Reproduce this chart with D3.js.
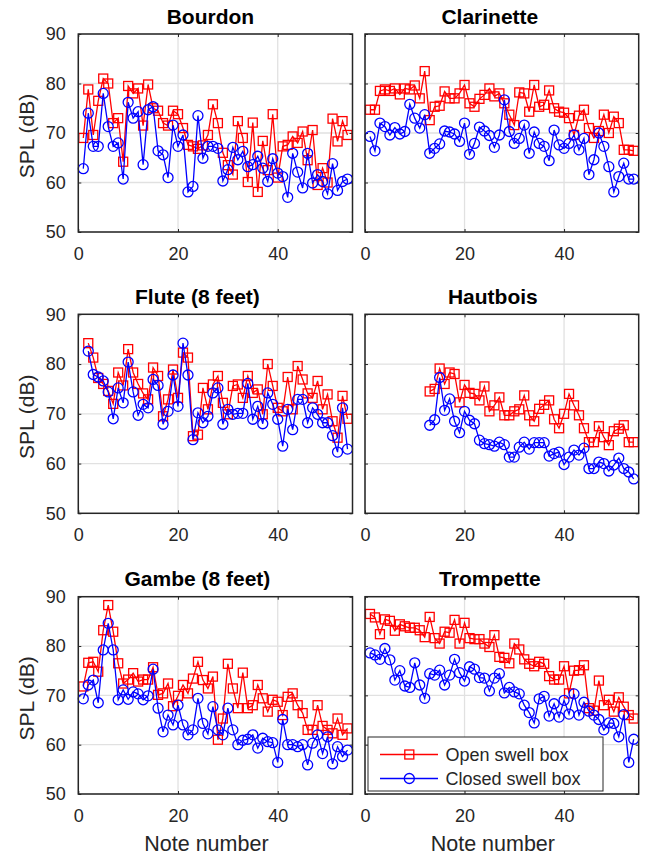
<!DOCTYPE html>
<meta charset="utf-8">
<style>
    body { margin: 0; background: #fff; }
    svg text { font-family: "Liberation Sans", Arial, sans-serif; }
</style>
<svg width="646" height="856"></svg>
<script src="https://cdn.jsdelivr.net/npm/d3@7"></script>
<script>
// ticks shared by all six panels
var xTicks = [0, 20, 40];
var yTicks = [50, 60, 70, 80, 90];

// note numbers (keyboard position) for each stop
var bourdonNotes = d3.range(1, 55);
var clarinetteNotes = d3.range(1, 55);
var fluteNotes = d3.range(2, 55);
var hautboisNotes = d3.range(13, 55);
var gambeNotes = d3.range(1, 55);
var trompetteNotes = d3.range(1, 55);

// SPL in dB, open swell box / closed swell box
var bourdonOpen = [69, 78.8, 69.6, 76.5, 81, 80, 72, 73, 64.2, 79.5,
    78, 79, 71.5, 79.8, 75, 74.5, 72, 71.5, 74.5, 73.8,
    71, 67.6, 67.3, 66.8, 67.5, 69.6, 75.8, 72, 66, 63.5,
    61.6, 72.4, 69, 60.1, 72.1, 58.1, 68.4, 62.5, 73.8, 61,
    67.3, 67.6, 69.3, 68, 70.3, 64.5, 70.6, 59.5, 62.9, 60,
    72.9, 68.3, 72.4, 69.6];
var bourdonClosed = [62.8, 74, 67.3, 67.3, 78, 71.3, 67.3, 68, 60.7, 76.2,
    73, 74.3, 63.6, 74.7, 75.3, 66.4, 65.6, 61, 71.6, 67.3,
    69.6, 58.1, 59.2, 73.5, 64.9, 67.3, 67.3, 66.9, 60.3, 62.6,
    67.1, 64.6, 66.3, 63.2, 63.6, 65.3, 62.9, 60.2, 64.8, 61.9,
    61.2, 57, 65.9, 62.1, 58.9, 65.9, 59.9, 61.6, 60.2, 57.7,
    63.8, 58.4, 60.2, 60.7];

var clarinetteOpen = [74.7, 74.7, 78.5, 78.8, 78.5, 79, 77.8, 79, 78.8, 79.6,
    77, 82.5, 72.6, 75.3, 75.5, 78.4, 77, 77, 78, 79.7,
    76, 75.3, 76.9, 77.7, 79, 77.4, 78, 76, 73.7, 71.6,
    78.2, 78, 74.3, 79.7, 75.3, 75.7, 78.6, 75, 74.3, 74.1,
    73, 69.6, 73.5, 74.7, 71, 69, 70.4, 73.7, 70, 73.3,
    72, 66.6, 66.6, 66.4];
var clarinetteClosed = [69.3, 66.4, 72, 71.3, 69.6, 71.1, 69.8, 70.3, 75.8, 73,
    71, 73.7, 65.9, 66.9, 67.8, 70.4, 70.2, 69.8, 68.3, 72,
    65.7, 67.9, 71.2, 70.4, 69.5, 67.1, 69.6, 76.7, 70.3, 67.9,
    68.9, 71.6, 65.9, 70.2, 67.9, 67.3, 64.4, 70.6, 67.6, 66.9,
    67.9, 69.6, 66.6, 68.9, 61.6, 64.6, 70, 67.3, 63.2, 58.1,
    61.2, 63.9, 60.7, 60.7];

var fluteOpen = [84.2, 81.3, 77.2, 76, 74.6, 72, 78.3, 75.7, 83, 78.3,
    76, 74.1, 72.9, 79.3, 77.6, 69.5, 72.9, 78.9, 73.2, 82.3,
    81.3, 65.5, 65.8, 75.2, 70.9, 75.9, 77.6, 72.2, 69.9, 75.6,
    75.9, 73.2, 77.6, 74.2, 74.9, 69.9, 80, 75.6, 71.2, 70.5,
    77.4, 70.9, 79.6, 76.9, 74.1, 73.2, 76.6, 70.9, 73.9, 68.5,
    65.2, 73.6, 69];
var fluteClosed = [82.6, 77.9, 77.4, 76.6, 74.4, 69, 75.2, 72.2, 80.4, 74.4,
    69.7, 71.9, 71.2, 76.9, 75.7, 67.9, 70.5, 77.8, 71.5, 84.2,
    77.8, 64.8, 70.2, 68.2, 69.5, 74.2, 75.2, 67.9, 70.9, 69.9,
    70.1, 70.1, 76.1, 68.9, 71.5, 68, 74.2, 71.9, 68.9, 63.5,
    70.9, 66.8, 72.9, 72.9, 68.2, 71.2, 69.9, 68.2, 68.2, 65.6,
    62.3, 71.2, 62.9];

var hautboisOpen = [74.5, 75, 79.1, 76, 78.3, 78, 72.3, 75.8, 74.2, 74,
    72.7, 75.5, 70.5, 71.7, 73.3, 69.7, 69.7, 70.5, 70.9, 73.7,
    69.7, 68.5, 71, 71.8, 72.7, 68.9, 67.1, 70, 74, 71.7,
    69.7, 67.1, 64.3, 64.3, 67.5, 65.3, 63.7, 66.5, 67, 67.7,
    64.3, 64.3];
var hautboisClosed = [67.7, 68.8, 77.3, 70.7, 73, 68.5, 66.2, 70.5, 68.7, 68,
    64.7, 64, 63.8, 63.5, 64.3, 63.8, 61.3, 61.3, 63.3, 64.3,
    62.9, 64.2, 64.2, 64.2, 61.5, 62, 62.3, 59.8, 61.3, 62.7,
    61.7, 63.1, 59, 59, 60.3, 60, 58.5, 59.7, 61.1, 59,
    58.3, 56.9];

var gambeOpen = [71.8, 76.6, 76.8, 74.8, 83.2, 88.3, 82.9, 76.5, 72.4, 73.2,
    74.5, 72.8, 73.2, 73.2, 75.7, 70.1, 70.4, 72.4, 67.8, 69.9,
    72.1, 70.4, 73.4, 76.8, 73.1, 71.4, 73.8, 61, 65.3, 76.4,
    71.4, 67.4, 74.6, 67.4, 68, 72.1, 69.4, 66.7, 69.1, 68.7,
    66, 69.7, 70.4, 68, 66.4, 63, 63, 68, 63.8, 63,
    62.3, 65.3, 62, 63.3];
var gambeClosed = [69.3, 72.1, 73.1, 68.5, 79.2, 84.6, 79.2, 69.1, 71.1, 69.2,
    70.7, 70.3, 69.1, 69.9, 75.3, 67.4, 62.6, 66, 64, 68,
    64, 62, 63, 69.4, 64.3, 62.2, 67.7, 63, 62, 67.4,
    63, 60, 60.9, 61.1, 62, 59.3, 61.3, 60.6, 60.4, 56.4,
    65.1, 60, 60, 59.6, 60, 55.9, 60.3, 62, 58.2, 61.6,
    56.1, 59.6, 57.6, 58.9];

var trompetteOpen = [86.5, 85.8, 82.4, 85.4, 85.1, 83.1, 84.4, 84, 83.7, 83.7,
    83.2, 81.8, 85.9, 81.6, 80.5, 82.9, 82.7, 85.3, 80.5, 84.7,
    81.6, 81.4, 81.4, 80.5, 79.8, 82.2, 77.8, 77.6, 76.5, 80.5,
    79.3, 77.3, 76.4, 75.9, 76.8, 76.4, 73.9, 73.2, 73.2, 75.9,
    70.4, 75, 75.1, 76.1, 67.4, 66.9, 73, 68, 69.1, 66.7,
    69.6, 67.7, 66, 65.3];
var trompetteClosed = [78.6, 78.2, 77.3, 79.5, 77.2, 73.1, 75, 71.9, 71.6, 76.6,
    72.1, 69.4, 74.4, 74.1, 75.1, 72.1, 74.1, 77.3, 74.6, 72.9,
    75.8, 75.3, 73.6, 73.5, 70.9, 73.5, 74.4, 70.5, 71.6, 70.7,
    70.3, 68, 66.5, 64.4, 69.3, 69.8, 65.8, 68.3, 65.6, 69,
    66.2, 70.3, 66, 68.6, 66.8, 66, 65.1, 63, 64.4, 64.3,
    61.6, 66.1, 56.4, 61.1];

var seriesNames = ["Open swell box", "Closed swell box"];

var svg = d3.select("svg");

// layout of the 3x2 grid of axes
var colLeft = [78.3, 365], colRight = [352.5, 638.7];
var rowTop = [34, 314.3, 596.7], rowBottom = [232, 513.3, 794];

var panels = [
    {title: "Bourdon", notes: bourdonNotes, open: bourdonOpen, closed: bourdonClosed, col: 0, row: 0, shift: -5},
    {title: "Clarinette", notes: clarinetteNotes, open: clarinetteOpen, closed: clarinetteClosed, col: 1, row: 0, shift: -12},
    {title: "Flute (8 feet)", notes: fluteNotes, open: fluteOpen, closed: fluteClosed, col: 0, row: 1, shift: -18},
    {title: "Hautbois", notes: hautboisNotes, open: hautboisOpen, closed: hautboisClosed, col: 1, row: 1, shift: -9},
    {title: "Gambe (8 feet)", notes: gambeNotes, open: gambeOpen, closed: gambeClosed, col: 0, row: 2, shift: -18},
    {title: "Trompette", notes: trompetteNotes, open: trompetteOpen, closed: trompetteClosed, col: 1, row: 2, shift: -12}
];

var red = "#ff0000", blue = "#0000ff", axisCol = "#262626";

function drawSquares(g, pts, x, y) {
    g.selectAll("rect.mk").data(pts).enter().append("rect")
        .attr("class", "mk")
        .attr("x", function(d) { return x(d[0]) - 4.5; })
        .attr("y", function(d) { return y(d[1]) - 4.5; })
        .attr("width", 9).attr("height", 9)
        .attr("fill", "none").attr("stroke", red).attr("stroke-width", 1.3);
}

function drawCircles(g, pts, x, y) {
    g.selectAll("circle.mk").data(pts).enter().append("circle")
        .attr("class", "mk")
        .attr("cx", function(d) { return x(d[0]); })
        .attr("cy", function(d) { return y(d[1]); })
        .attr("r", 5)
        .attr("fill", "none").attr("stroke", blue).attr("stroke-width", 1.3);
}

panels.forEach(function(p) {
    var left = colLeft[p.col], right = colRight[p.col];
    var top = rowTop[p.row], bottom = rowBottom[p.row];

    var x = d3.scaleLinear().domain([0, 55]).range([left, right]);
    var y = d3.scaleLinear().domain([50, 90]).range([bottom, top]);
    var g = svg.append("g");

    // grid
    g.selectAll("line.vg").data(xTicks).enter().append("line")
        .attr("x1", x).attr("x2", x).attr("y1", top).attr("y2", bottom)
        .attr("stroke", "#e1e1e1").attr("stroke-width", 1.3);
    g.selectAll("line.hg").data(yTicks).enter().append("line")
        .attr("x1", left).attr("x2", right).attr("y1", y).attr("y2", y)
        .attr("stroke", "#e1e1e1").attr("stroke-width", 1.3);

    // axes, ticks pointing inward (box on)
    var xb = g.append("g").attr("transform", "translate(0," + bottom + ")")
        .call(d3.axisBottom(x).tickValues(xTicks).tickSize(-3).tickPadding(15));
    var xt = g.append("g").attr("transform", "translate(0," + top + ")")
        .call(d3.axisTop(x).tickValues(xTicks).tickSize(-3).tickFormat(""));
    var yl = g.append("g").attr("transform", "translate(" + left + ",0)")
        .call(d3.axisLeft(y).tickValues(yTicks).tickSize(-3).tickPadding(12.5)
            .tickFormat(p.col === 0 ? d3.format("d") : ""));
    var yr = g.append("g").attr("transform", "translate(" + right + ",0)")
        .call(d3.axisRight(y).tickValues(yTicks).tickSize(-3).tickFormat(""));
    [xb, xt, yl, yr].forEach(function(a) {
        a.select(".domain").remove();
        a.selectAll(".tick line").attr("stroke", axisCol).attr("stroke-width", 1);
        a.selectAll(".tick text").attr("fill", axisCol).style("font-size", "18px");
    });

    // data: open first, closed drawn on top
    var openPts = p.notes.map(function(n, i) { return [n, p.open[i]]; });
    var closedPts = p.notes.map(function(n, i) { return [n, p.closed[i]]; });
    var line = d3.line().x(function(d) { return x(d[0]); }).y(function(d) { return y(d[1]); });

    var gOpen = g.append("g");
    gOpen.append("path").datum(openPts).attr("d", line)
        .attr("fill", "none").attr("stroke", red).attr("stroke-width", 1.3);
    drawSquares(gOpen, openPts, x, y);

    var gClosed = g.append("g");
    gClosed.append("path").datum(closedPts).attr("d", line)
        .attr("fill", "none").attr("stroke", blue).attr("stroke-width", 1.3);
    drawCircles(gClosed, closedPts, x, y);

    // box
    g.append("rect").attr("x", left).attr("y", top)
        .attr("width", right - left).attr("height", bottom - top)
        .attr("fill", "none").attr("stroke", axisCol).attr("stroke-width", 1.5);

    // title
    g.append("text")
        .attr("x", (left + right) / 2 + p.shift).attr("y", top - 10.5)
        .attr("text-anchor", "middle")
        .style("font-size", "21px").style("font-weight", "bold")
        .text(p.title);

    if (p.col === 0) {
        var cy = (top + bottom) / 2 + 3;
        g.append("text")
            .attr("transform", "translate(33.5," + cy + ") rotate(-90)")
            .attr("text-anchor", "middle")
            .attr("fill", axisCol)
            .style("font-size", "21px")
            .text("SPL (dB)");
    }
    if (p.row === 2) {
        g.append("text")
            .attr("x", (left + right) / 2 - 9).attr("y", 850.5)
            .attr("text-anchor", "middle")
            .attr("fill", axisCol)
            .style("font-size", "21.5px")
            .text("Note number");
    }

    // legend sits in the last panel
    if (p.title === "Trompette") {
        var lg = g.append("g");
        lg.append("rect").attr("x", 368).attr("y", 737).attr("width", 235).attr("height", 54)
            .attr("fill", "#fff").attr("stroke", axisCol).attr("stroke-width", 1);
        seriesNames.forEach(function(name, i) {
            var ly = 754.5 + i * 24;
            var col = i === 0 ? red : blue;
            lg.append("line").attr("x1", 380).attr("x2", 438).attr("y1", ly).attr("y2", ly)
                .attr("stroke", col).attr("stroke-width", 1.3);
            if (i === 0) {
                lg.append("rect").attr("x", 409.3 - 4.5).attr("y", ly - 4.5).attr("width", 9).attr("height", 9)
                    .attr("fill", "none").attr("stroke", red).attr("stroke-width", 1.3);
            } else {
                lg.append("circle").attr("cx", 409.3).attr("cy", ly).attr("r", 5)
                    .attr("fill", "none").attr("stroke", blue).attr("stroke-width", 1.3);
            }
            lg.append("text").attr("x", 445.5).attr("y", ly).attr("dy", "0.35em")
                .attr("fill", axisCol).style("font-size", "18px")
                .text(name);
        });
    }
});
</script>
